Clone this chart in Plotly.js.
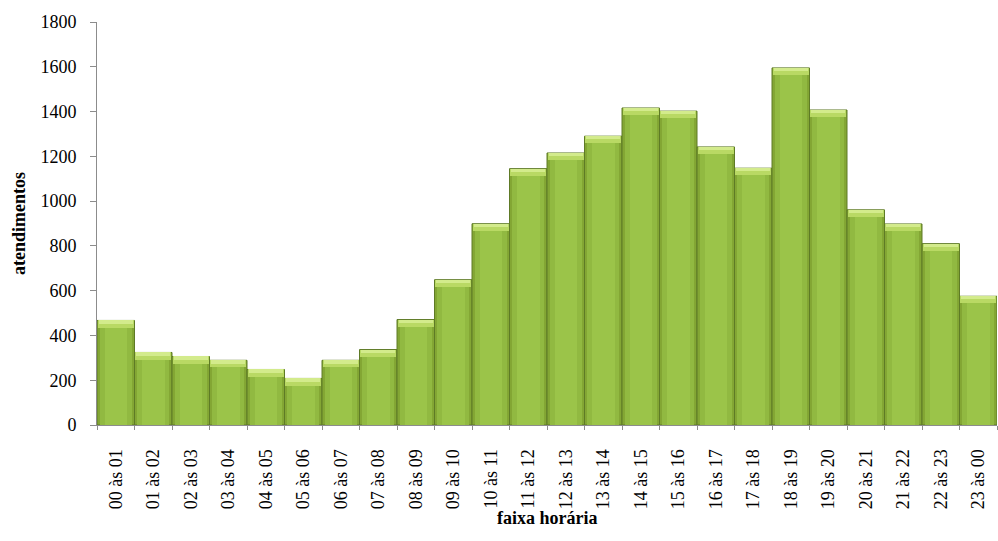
<!DOCTYPE html>
<html>
<head>
<meta charset="utf-8">
<script src="https://cdn.plot.ly/plotly-3.0.1.min.js"></script>
<style>html,body{margin:0;padding:0;background:#fff}#chart{width:998px;height:541px}</style>
</head>
<body>
<div id="chart"></div>
<script>
const categories = ["00 às 01","01 às 02","02 às 03","03 às 04","04 às 05","05 às 06","06 às 07","07 às 08","08 às 09","09 às 10","10 às 11","11 às 12","12 às 13","13 às 14","14 às 15","15 às 16","16 às 17","17 às 18","18 às 19","19 às 20","20 às 21","21 às 22","22 às 23","23 às 00"];
const atendimentos = [467, 324, 306, 289, 248, 208, 289, 337, 471, 649, 899, 1145, 1215, 1290, 1416, 1402, 1242, 1147, 1595, 1407, 961, 898, 810, 575];
const yTicks = [0, 200, 400, 600, 800, 1000, 1200, 1400, 1600, 1800];
const yTitle = "atendimentos";
const xTitle = "faixa horária";

const bevel = 32;
const font = "Liberation Serif, Times New Roman, serif";

const traces = [
  {type:'bar', x:categories, y:atendimentos, width:1,
   marker:{color:'#83a634', line:{color:'#5e7a26', width:1}}, hoverinfo:'none'},
  {type:'bar', x:categories, y:atendimentos, width:0.86,
   marker:{color:'#91b941', line:{width:0}}, hoverinfo:'none'},
  {type:'bar', x:categories, y:atendimentos, width:0.6,
   marker:{color:'#9bc449', line:{width:0}}, hoverinfo:'none'},
  {type:'bar', x:categories, y:atendimentos.map(v => bevel), base:atendimentos.map(v => v - bevel), width:0.96,
   marker:{color:'#b9d964', line:{width:0}}, hoverinfo:'none'},
  {type:'bar', x:categories, y:atendimentos.map(v => bevel*0.45), base:atendimentos.map(v => v - bevel*0.45), width:0.9,
   marker:{color:'#d3eb8c', line:{width:0}}, hoverinfo:'none'}
];

const layout = {
  width:998, height:541,
  margin:{l:97, r:1, t:22, b:116},
  paper_bgcolor:'#fff', plot_bgcolor:'#fff',
  barmode:'overlay', bargap:0, showlegend:false,
  font:{family:font, color:'#000'},
  xaxis:{
    type:'category', tickangle:-90, tickfont:{size:18, family:font},
    showline:true, linecolor:'#8c8c8c', linewidth:1,
    ticks:'outside', tickson:'boundaries', ticklen:4, tickcolor:'#8c8c8c',
    ticklabelstandoff:16, showgrid:false, zeroline:false
  },
  yaxis:{
    range:[0,1800], tickvals:yTicks, ticktext:yTicks.map(String),
    tickfont:{size:18, family:font},
    showline:true, linecolor:'#8c8c8c', linewidth:1,
    ticks:'outside', ticklen:6, tickcolor:'#8c8c8c', ticklabelstandoff:10,
    showgrid:false, zeroline:false,
    title:{text:yTitle, font:{size:18, family:font, weight:'bold'}, standoff:10}
  },
  annotations:[{
    text:'<b>' + xTitle + '</b>', xref:'paper', yref:'paper', x:0.5, y:-0.232,
    xanchor:'center', yanchor:'middle', showarrow:false,
    font:{size:18, family:font, color:'#000'}
  }]
};

Plotly.newPlot('chart', traces, layout, {staticPlot:true, displayModeBar:false});
</script>
</body>
</html>
